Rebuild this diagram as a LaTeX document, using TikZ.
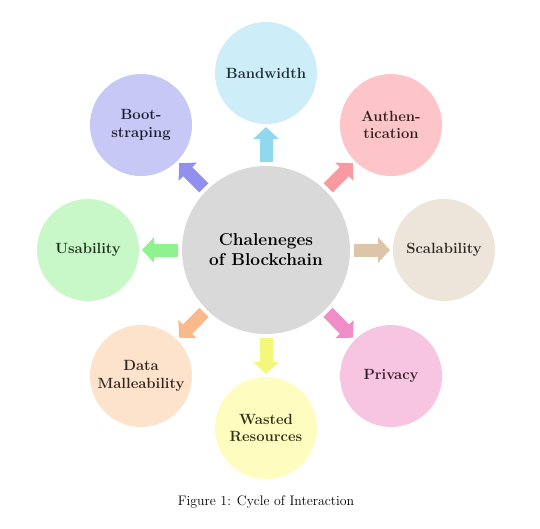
\documentclass[tikz,border=0pt]{standalone}
\usepackage{xcolor}
\usetikzlibrary{arrows.meta}
\definecolor{hub}{HTML}{D9D9D9}
\definecolor{bwfill}{HTML}{CDEEF8}\definecolor{bwarr}{HTML}{8FD8EE}
\definecolor{aufill}{HTML}{FDC5C8}\definecolor{auarr}{HTML}{F99AA0}
\definecolor{scfill}{HTML}{EEE5DA}\definecolor{scarr}{HTML}{DCC5A8}
\definecolor{prfill}{HTML}{F7C5E2}\definecolor{prarr}{HTML}{F08CC8}
\definecolor{wafill}{HTML}{FEFDBF}\definecolor{waarr}{HTML}{F3F77A}
\definecolor{dmfill}{HTML}{FDE2CC}\definecolor{dmarr}{HTML}{F9B98A}
\definecolor{usfill}{HTML}{C8F7C8}\definecolor{usarr}{HTML}{8EF28E}
\definecolor{bofill}{HTML}{C8C8F7}\definecolor{boarr}{HTML}{9090EE}
\begin{document}
\begin{tikzpicture}[x=1pt,y=-1pt,
 bub/.style={circle,minimum size=102pt,inner sep=0pt,outer sep=0pt,align=center,fill=#1fill,text=#1arr!20!black,font=\fontsize{14.8}{17.5}\selectfont\bfseries},
 arr/.style={line width=13pt,-{Triangle[length=12pt,width=25pt]},shorten <=4pt,shorten >=3pt}]
\useasboundingbox (0,0) rectangle (540,528);
\node[circle,minimum size=168pt,inner sep=0pt,outer sep=0pt,align=center,fill=hub,font=\fontsize{17.2}{20}\selectfont\bfseries](ctr) at (266,250){Chaleneges\\of Blockchain};
\node[bub=bw](bw) at (266,73){Bandwidth};
\node[bub=au](au) at (391,125){Authen-\\tication};
\node[bub=sc](sc) at (444,250){Scalability};
\node[bub=pr](pr) at (391,376){Privacy};
\node[bub=wa](wa) at (266,428){Wasted\\Resources};
\node[bub=dm](dm) at (141,376){Data\\Malleability};
\node[bub=us](us) at (88,250){Usability};
\node[bub=bo](bo) at (141,125){Boot-\\straping};
\foreach \x in {bw,au,sc,pr,wa,dm,us,bo}{\draw[arr,\x arr](ctr)--(\x);}
\node[font=\fontsize{13.8}{16}\selectfont](cap) at (266,502){Figure 1: Cycle of Interaction};
\end{tikzpicture}
\end{document}
